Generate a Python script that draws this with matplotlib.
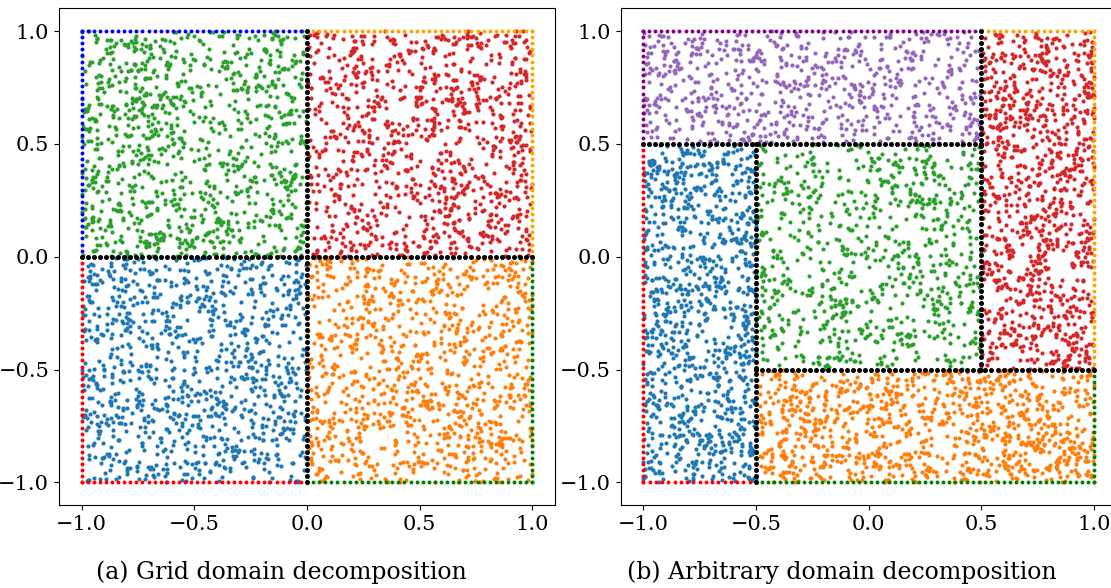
import numpy as np
import matplotlib.pyplot as plt

plt.rcParams["font.family"] = ["DejaVu Serif"]

# Subdomains: (x_min, x_max, y_min, y_max), number of interior points, colour
# (a) grid decomposition into four quadrants
grid_boxes = [(-1.0, 0.0, -1.0, 0.0), (0.0, 1.0, -1.0, 0.0), (-1.0, 0.0, 0.0, 1.0), (0.0, 1.0, 0.0, 1.0)]
grid_counts = [1000, 1000, 1000, 1000]
grid_colors = ["tab:blue", "tab:orange", "tab:green", "tab:red"]

# (b) arbitrary (pinwheel) decomposition into five subdomains
arb_boxes = [(-1.0, -0.5, -1.0, 0.5), (-0.5, 1.0, -1.0, -0.5), (-0.5, 0.5, -0.5, 0.5),
             (0.5, 1.0, -0.5, 1.0), (-1.0, 0.5, 0.5, 1.0)]
arb_counts = [1000, 1000, 800, 1000, 700]
arb_colors = ["tab:blue", "tab:orange", "tab:green", "tab:red", "tab:purple"]

# Boundary segments: (x0, y0, x1, y1), colour
grid_bound = [(-1, 0, -1, 1, "blue"), (-1, 1, 0, 1, "blue"),
              (0, 1, 1, 1, "orange"), (1, 1, 1, 0, "orange"),
              (1, 0, 1, -1, "green"), (1, -1, 0, -1, "green"),
              (0, -1, -1, -1, "red"), (-1, -1, -1, 0, "red")]
arb_bound = [(-1, 0.5, -1, 1, "purple"), (-1, 1, 0.5, 1, "purple"),
             (0.5, 1, 1, 1, "orange"), (1, 1, 1, -0.5, "orange"),
             (1, -0.5, 1, -1, "green"), (1, -1, -0.5, -1, "green"),
             (-0.5, -1, -1, -1, "red"), (-1, -1, -1, 0.5, "red")]

# Interfaces between subdomains: (x0, y0, x1, y1)
grid_iface = [(-1, 0, 1, 0), (0, -1, 0, 1)]
arb_iface = [(-0.5, -1, -0.5, 0.5), (-1, 0.5, 0.5, 0.5), (0.5, -0.5, 0.5, 1), (-0.5, -0.5, 1, -0.5)]

ticks = [-1.0, -0.5, 0.0, 0.5, 1.0]
captions = ["(a) Grid domain decomposition", "(b) Arbitrary domain decomposition"]

# spacing of the evenly placed boundary / interface points (~75 per edge)
spacing = 2.0 / 74

# collocation points cannot be read one by one: sample them uniformly, fixed seed
rng = np.random.default_rng(7)


def seg_points(x0, y0, x1, y1):
    n = int(round(np.hypot(x1 - x0, y1 - y0) / spacing)) + 1
    return np.linspace(x0, x1, n), np.linspace(y0, y1, n)


fig = plt.figure(figsize=(11.11, 5.88), dpi=100)
ax1 = fig.add_axes([0.0531, 0.1412, 0.4464, 0.8444])
ax2 = fig.add_axes([0.5587, 0.1412, 0.4464, 0.8444])

for ax, boxes, counts, colors, bound, iface in [
    (ax1, grid_boxes, grid_counts, grid_colors, grid_bound, grid_iface),
    (ax2, arb_boxes, arb_counts, arb_colors, arb_bound, arb_iface),
]:
    # interior points
    for (x0, x1, y0, y1), n, c in zip(boxes, counts, colors):
        px = rng.uniform(x0, x1, n)
        py = rng.uniform(y0, y1, n)
        ax.scatter(px, py, s=9, color=c, linewidths=0, zorder=2)
    # boundary points
    for x0, y0, x1, y1, c in bound:
        bx, by = seg_points(x0, y0, x1, y1)
        ax.scatter(bx, by, s=8, color=c, linewidths=0, zorder=3)
    # interface points
    for x0, y0, x1, y1 in iface:
        ix, iy = seg_points(x0, y0, x1, y1)
        ax.scatter(ix, iy, s=13, color="black", linewidths=0, zorder=4)

    ax.set_xlim(-1.1, 1.1)
    ax.set_ylim(-1.1, 1.1)
    ax.set_xticks(ticks)
    ax.set_yticks(ticks)
    ax.tick_params(labelsize=15)

fig.text(281 / 1111, 0.026, captions[0], ha="center", va="center", fontsize=17)
fig.text(842 / 1111, 0.026, captions[1], ha="center", va="center", fontsize=17)

fig.savefig("out.png", dpi=100)
